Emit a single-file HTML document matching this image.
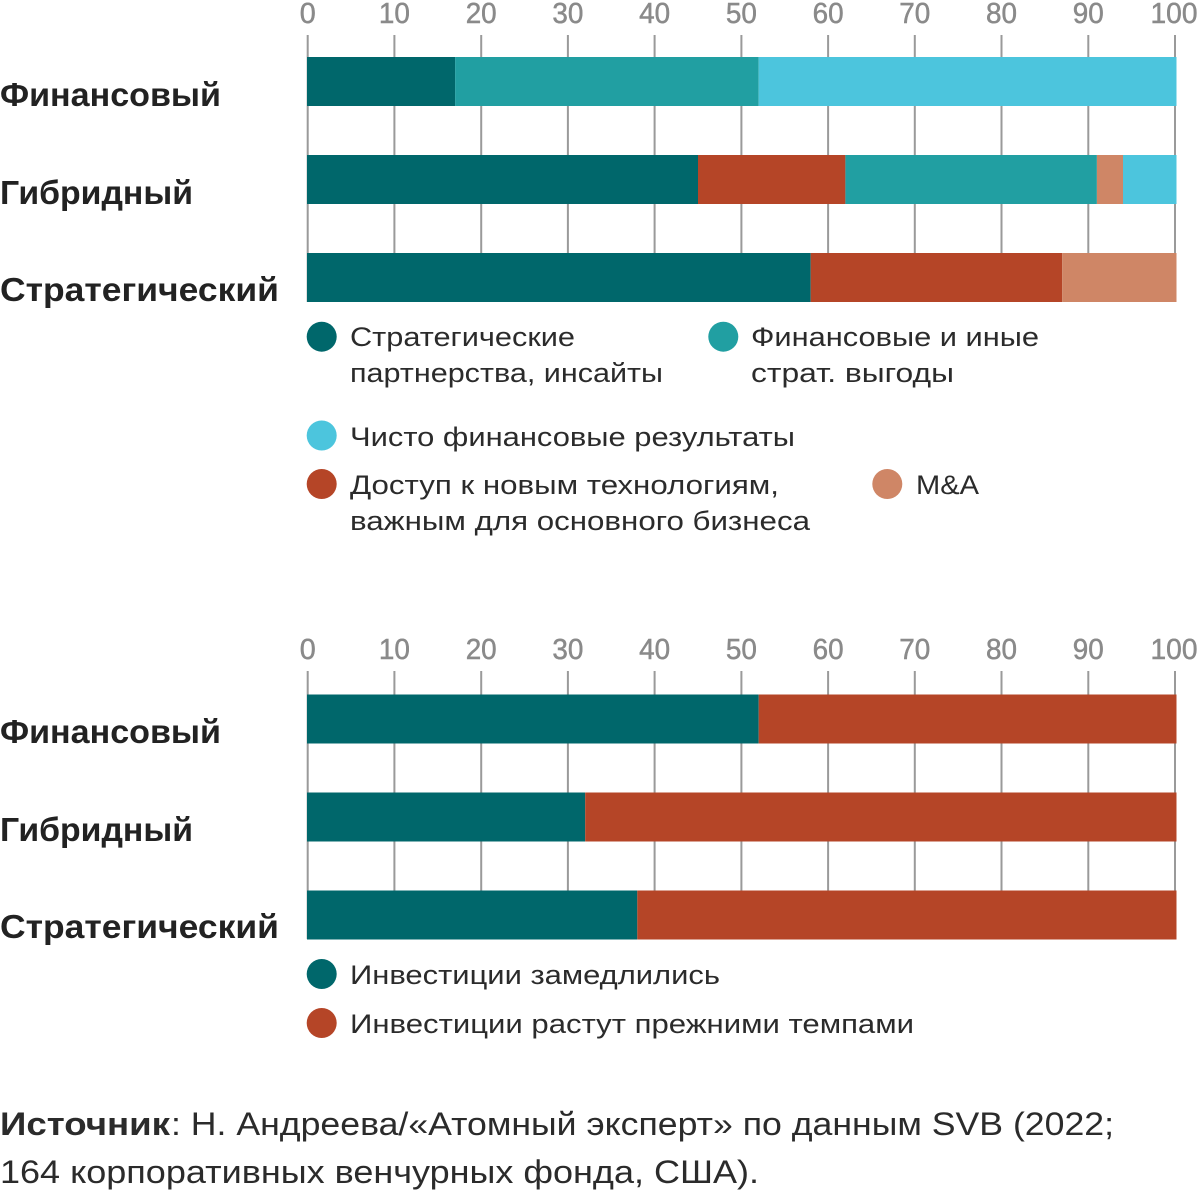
<!DOCTYPE html>
<html>
<head>
<meta charset="utf-8">
<style>
html,body{margin:0;padding:0;background:#fff;}
svg{display:block;}
.ax{font-family:"Liberation Sans","Noto Sans CJK SC",sans-serif;font-size:29px;fill:#8a8a8a;stroke:#8a8a8a;stroke-width:0.5;text-anchor:middle;}
.cat{font-family:"Liberation Sans","Noto Sans CJK SC",sans-serif;font-size:33px;font-weight:bold;fill:#222;}
.lg{font-family:"Liberation Sans","Noto Sans CJK SC",sans-serif;font-size:27px;fill:#2b2b2b;}
.src{font-family:"Liberation Sans","Noto Sans CJK SC",sans-serif;font-size:32px;fill:#2b2b2b;}
</style>
</head>
<body>
<svg width="1200" height="1193" viewBox="0 0 1200 1193" xmlns="http://www.w3.org/2000/svg">
<!-- TOP CHART -->
<g class="ax">
<text x="307.7" y="23" textLength="16" lengthAdjust="spacingAndGlyphs">0</text>
<text x="394.4" y="23" textLength="31" lengthAdjust="spacingAndGlyphs">10</text>
<text x="481.2" y="23" textLength="31" lengthAdjust="spacingAndGlyphs">20</text>
<text x="567.9" y="23" textLength="31" lengthAdjust="spacingAndGlyphs">30</text>
<text x="654.6" y="23" textLength="31" lengthAdjust="spacingAndGlyphs">40</text>
<text x="741.4" y="23" textLength="31" lengthAdjust="spacingAndGlyphs">50</text>
<text x="828.1" y="23" textLength="31" lengthAdjust="spacingAndGlyphs">60</text>
<text x="914.8" y="23" textLength="31" lengthAdjust="spacingAndGlyphs">70</text>
<text x="1001.5" y="23" textLength="31" lengthAdjust="spacingAndGlyphs">80</text>
<text x="1088.3" y="23" textLength="31" lengthAdjust="spacingAndGlyphs">90</text>
<text x="1174" y="23" textLength="47" lengthAdjust="spacingAndGlyphs">100</text>
</g>
<g stroke="#9a9a9a" stroke-width="2">
<line x1="307.7" y1="35" x2="307.7" y2="302"/>
<line x1="394.4" y1="35" x2="394.4" y2="302"/>
<line x1="481.2" y1="35" x2="481.2" y2="302"/>
<line x1="567.9" y1="35" x2="567.9" y2="302"/>
<line x1="654.6" y1="35" x2="654.6" y2="302"/>
<line x1="741.4" y1="35" x2="741.4" y2="302"/>
<line x1="828.1" y1="35" x2="828.1" y2="302"/>
<line x1="914.8" y1="35" x2="914.8" y2="302"/>
<line x1="1001.5" y1="35" x2="1001.5" y2="302"/>
<line x1="1088.3" y1="35" x2="1088.3" y2="302"/>
<line x1="1175" y1="35" x2="1175" y2="302"/>
</g>
<!-- Финансовый -->
<rect x="307" y="57" width="148.1" height="49" fill="#00676b"/>
<rect x="455.1" y="57" width="303.6" height="49" fill="#219fa2"/>
<rect x="758.7" y="57" width="417.8" height="49" fill="#4cc5dd"/>
<!-- Гибридный -->
<rect x="307" y="155" width="391" height="49" fill="#00676b"/>
<rect x="698" y="155" width="147.4" height="49" fill="#b54527"/>
<rect x="845.4" y="155" width="251.5" height="49" fill="#219fa2"/>
<rect x="1096.9" y="155" width="26.1" height="49" fill="#cf8666"/>
<rect x="1123" y="155" width="53.5" height="49" fill="#4cc5dd"/>
<!-- Стратегический -->
<rect x="307" y="253" width="503.7" height="49" fill="#00676b"/>
<rect x="810.7" y="253" width="251.5" height="49" fill="#b54527"/>
<rect x="1062.2" y="253" width="114.3" height="49" fill="#cf8666"/>

<text class="cat" x="0" y="106" textLength="221" lengthAdjust="spacingAndGlyphs">Финансовый</text>
<text class="cat" x="0" y="204" textLength="193" lengthAdjust="spacingAndGlyphs">Гибридный</text>
<text class="cat" x="0" y="301" textLength="279" lengthAdjust="spacingAndGlyphs">Стратегический</text>

<!-- legend top -->
<circle cx="321.7" cy="336.7" r="15" fill="#00676b"/>
<text class="lg" x="350" y="346" textLength="225" lengthAdjust="spacingAndGlyphs">Стратегические</text>
<text class="lg" x="350" y="382" textLength="313" lengthAdjust="spacingAndGlyphs">партнерства, инсайты</text>
<circle cx="723.3" cy="336.7" r="15" fill="#219fa2"/>
<text class="lg" x="751" y="346" textLength="288" lengthAdjust="spacingAndGlyphs">Финансовые и иные</text>
<text class="lg" x="751" y="382" textLength="203" lengthAdjust="spacingAndGlyphs">страт. выгоды</text>
<circle cx="321.7" cy="435.5" r="15" fill="#4cc5dd"/>
<text class="lg" x="350" y="446" textLength="445" lengthAdjust="spacingAndGlyphs">Чисто финансовые результаты</text>
<circle cx="321.7" cy="484" r="15" fill="#b54527"/>
<text class="lg" x="350" y="494" textLength="429" lengthAdjust="spacingAndGlyphs">Доступ к новым технологиям,</text>
<text class="lg" x="350" y="530" textLength="460" lengthAdjust="spacingAndGlyphs">важным для основного бизнеса</text>
<circle cx="887.3" cy="484" r="15" fill="#cf8666"/>
<text class="lg" x="916" y="494" textLength="63" lengthAdjust="spacingAndGlyphs">M&amp;A</text>

<!-- BOTTOM CHART -->
<g class="ax">
<text x="307.7" y="659" textLength="16" lengthAdjust="spacingAndGlyphs">0</text>
<text x="394.4" y="659" textLength="31" lengthAdjust="spacingAndGlyphs">10</text>
<text x="481.2" y="659" textLength="31" lengthAdjust="spacingAndGlyphs">20</text>
<text x="567.9" y="659" textLength="31" lengthAdjust="spacingAndGlyphs">30</text>
<text x="654.6" y="659" textLength="31" lengthAdjust="spacingAndGlyphs">40</text>
<text x="741.4" y="659" textLength="31" lengthAdjust="spacingAndGlyphs">50</text>
<text x="828.1" y="659" textLength="31" lengthAdjust="spacingAndGlyphs">60</text>
<text x="914.8" y="659" textLength="31" lengthAdjust="spacingAndGlyphs">70</text>
<text x="1001.5" y="659" textLength="31" lengthAdjust="spacingAndGlyphs">80</text>
<text x="1088.3" y="659" textLength="31" lengthAdjust="spacingAndGlyphs">90</text>
<text x="1174" y="659" textLength="47" lengthAdjust="spacingAndGlyphs">100</text>
</g>
<g stroke="#9a9a9a" stroke-width="2">
<line x1="307.7" y1="671" x2="307.7" y2="939"/>
<line x1="394.4" y1="671" x2="394.4" y2="939"/>
<line x1="481.2" y1="671" x2="481.2" y2="939"/>
<line x1="567.9" y1="671" x2="567.9" y2="939"/>
<line x1="654.6" y1="671" x2="654.6" y2="939"/>
<line x1="741.4" y1="671" x2="741.4" y2="939"/>
<line x1="828.1" y1="671" x2="828.1" y2="939"/>
<line x1="914.8" y1="671" x2="914.8" y2="939"/>
<line x1="1001.5" y1="671" x2="1001.5" y2="939"/>
<line x1="1088.3" y1="671" x2="1088.3" y2="939"/>
<line x1="1175" y1="671" x2="1175" y2="939"/>
</g>
<rect x="307" y="694.5" width="451.7" height="49" fill="#00676b"/>
<rect x="758.7" y="694.5" width="417.8" height="49" fill="#b54527"/>
<rect x="307" y="792.5" width="278.2" height="49" fill="#00676b"/>
<rect x="585.2" y="792.5" width="591.3" height="49" fill="#b54527"/>
<rect x="307" y="890.5" width="330.3" height="49" fill="#00676b"/>
<rect x="637.3" y="890.5" width="539.2" height="49" fill="#b54527"/>

<text class="cat" x="0" y="743" textLength="221" lengthAdjust="spacingAndGlyphs">Финансовый</text>
<text class="cat" x="0" y="841" textLength="193" lengthAdjust="spacingAndGlyphs">Гибридный</text>
<text class="cat" x="0" y="938" textLength="279" lengthAdjust="spacingAndGlyphs">Стратегический</text>

<circle cx="321.7" cy="974" r="15" fill="#00676b"/>
<text class="lg" x="350" y="984" textLength="370" lengthAdjust="spacingAndGlyphs">Инвестиции замедлились</text>
<circle cx="321.7" cy="1023" r="15" fill="#b54527"/>
<text class="lg" x="350" y="1033" textLength="564" lengthAdjust="spacingAndGlyphs">Инвестиции растут прежними темпами</text>

<!-- Source -->
<text class="src" x="0" y="1135" font-weight="bold" textLength="170" lengthAdjust="spacingAndGlyphs">Источник</text>
<text class="src" x="171" y="1135" textLength="943" lengthAdjust="spacingAndGlyphs">: Н. Андреева/«Атомный эксперт» по данным SVB (2022;</text>
<text class="src" x="0" y="1183" textLength="759" lengthAdjust="spacingAndGlyphs">164 корпоративных венчурных фонда, США).</text>
</svg>
</body>
</html>
